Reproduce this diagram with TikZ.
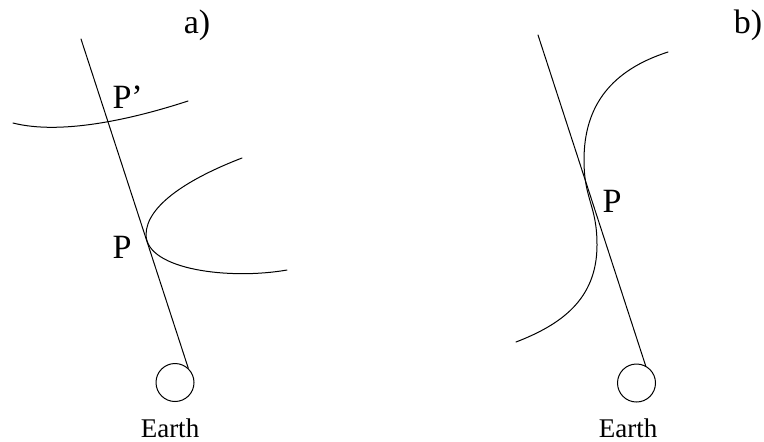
\documentclass[tikz,border=0pt]{standalone}
\usepackage{fontspec}
\setmainfont{Liberation Serif}
\usetikzlibrary{positioning}
\tikzset{
  every picture/.style={line width=0.5pt, line cap=round, line join=round},
  % Sichtlinie und Kurven
  ray/.style={line width=0.5pt},
  orbit/.style={line width=0.5pt},
  % Erde
  earth/.style={circle, draw, inner sep=0pt, minimum size=19pt},
  % Beschriftung
  lbl/.style={inner sep=0pt, font=\fontsize{17}{20}\selectfont},
  small/.style={inner sep=0pt, font=\fontsize{13.5}{16}\selectfont},
}

\begin{document}
\begin{tikzpicture}[x=0.5pt, y=-0.5pt]
  \useasboundingbox (0,0) rectangle (764,441);
  % a) Kurve schneidet die Sichtlinie
  \node[lbl, anchor=base] (la) at (197,33) {a)};
  \node[earth] (ea) at (175,382.5) {};
  \node[small, anchor=base] (ta) at (170,437) {Earth};
  \coordinate (sa) at (81,39);
  \draw[ray] (sa) -- (ea.47);
  \draw[orbit] (13,123) .. controls (60,135) and (130,120) .. (188,101);
  \draw[orbit] (242,158) .. controls (190,178) and (146,205) .. (146,235)
    .. controls (147,270) and (230,280) .. (287,270);
  \node[lbl, anchor=base west] (pq) at (112,108) {P'};
  \node[lbl, anchor=base west] (pa) at (112,258) {P};
  % b) Wendepunkt auf der Sichtlinie
  \node[lbl, anchor=base] (lb) at (748,33) {b)};
  \node[earth] (eb) at (636.5,383) {};
  \node[small, anchor=base] (tb) at (628,437) {Earth};
  \coordinate (sb) at (538,35);
  \draw[ray] (sb) -- (eb.62);
  \draw[orbit] (668,52) .. controls (612,70) and (584,105) .. (584,160)
    .. controls (584,200) and (597,205) .. (597,245)
    .. controls (597,300) and (560,325) .. (516,342);
  \node[lbl, anchor=base west] (pb) at (602,212) {P};
\end{tikzpicture}
\end{document}
